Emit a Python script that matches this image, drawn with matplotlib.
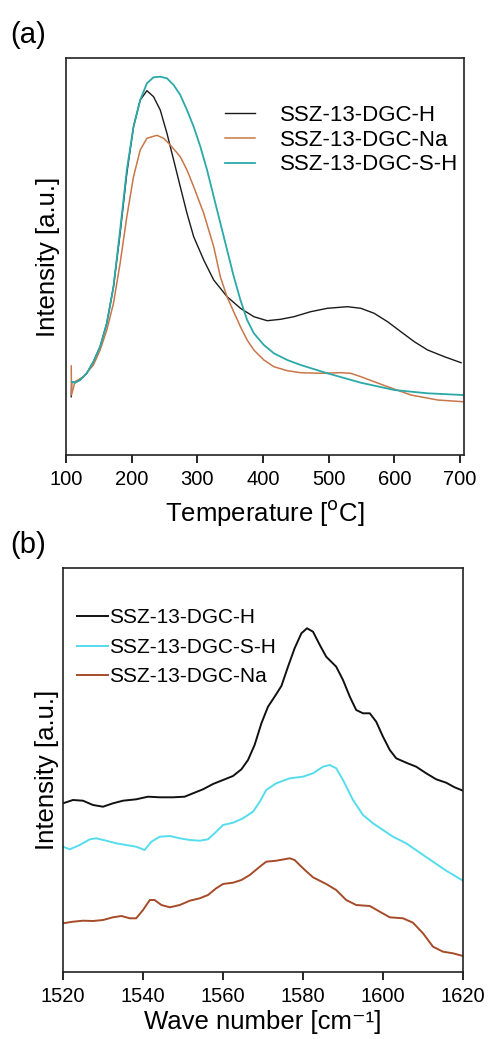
import matplotlib
matplotlib.use("Agg")
import matplotlib.pyplot as plt

plt.rcParams["font.family"] = ["Liberation Sans", "DejaVu Sans"]

# (a) temperature-programmed desorption profiles
temp_h = [108, 108.7, 113.7, 121.4, 131.6, 141.7, 151.9, 162.1, 172.3, 182.4, 192.6,
          202.8, 213, 223.2, 233.3, 243.5, 253.7, 263.9, 274, 284.2, 294.4, 309.7,
          324.9, 345.3, 365.6, 386, 406.4, 426.7, 447.1, 472.5, 498, 528.5, 548.9,
          569.2, 589.6, 609.9, 630.3, 650.6, 676.1, 701.5]
int_h = [58.3, 73.3, 72.3, 75, 81.7, 93.3, 108.3, 131.7, 168.3, 221.7, 281.7,
         328.3, 355, 364.3, 358.3, 345, 321.7, 295, 268.3, 241.7, 218.3, 195,
         175, 158.3, 146.7, 138.3, 134.3, 135.7, 138.3, 143.3, 146.7, 148.3, 146.7,
         141.7, 133.3, 123.3, 113.3, 105, 98.3, 92.3]

temp_na = [108, 108.3, 113.7, 126.5, 141.7, 151.9, 162.1, 172.3, 182.4, 192.6, 202.8,
           213, 223.2, 238.4, 248.6, 258.8, 274, 284.2, 294.4, 309.7, 324.9, 335.1,
           345.3, 355.5, 365.6, 375.8, 386, 401.3, 416.5, 436.9, 457.3, 487.8, 518.3,
           533.6, 548.9, 569.2, 589.6, 625.2, 665.9, 704]
int_na = [89, 60, 73.3, 78.3, 90, 105, 125, 151.7, 191.7, 238.3, 278.3,
          305, 316.7, 319.7, 316.7, 310, 298.3, 285, 268.3, 241.7, 208.3, 178,
          158, 143, 128.3, 115, 105, 95, 88.3, 84.3, 82.3, 81.7, 82.3,
          81.7, 78.3, 73.3, 68.3, 60, 55, 53.3]

temp_sh = [108.7, 113.7, 121.4, 131.6, 141.7, 151.9, 162.1, 172.3, 182.4, 192.6, 202.8,
           213, 223.2, 233.3, 243.5, 253.7, 263.9, 274, 284.2, 294.4, 304.6, 314.8,
           324.9, 335.1, 345.3, 355.5, 365.6, 375.8, 386, 401.3, 416.5, 436.9, 457.3,
           498, 548.9, 599.7, 650.6, 704]
int_sh = [73.3, 72.3, 75, 81.7, 93.3, 108.3, 131.7, 168.3, 225, 285, 328.3,
          355, 371.7, 377.7, 378.3, 376.7, 370, 360, 345, 328.3, 308.3, 285,
          258.3, 231.7, 205, 178.3, 155, 135, 121.7, 110, 101.7, 95, 90,
          81.7, 72.3, 65, 61.7, 60]

# (b) IR spectra
wn_h = [1520, 1522.5, 1525, 1527.5, 1530, 1532.5, 1535, 1538.3, 1541.25, 1544.2,
        1547.5, 1550.4, 1552.5, 1555, 1557.5, 1560, 1562.5, 1564.6, 1566.25, 1567.9,
        1569.6, 1571.25, 1572.9, 1574.6, 1576.25, 1577.9, 1579.6, 1581, 1582.5,
        1584.2, 1585.8, 1588.3, 1590, 1591.7, 1593.3, 1595, 1596.7, 1598.3, 1600,
        1601.7, 1603.3, 1605.8, 1608.3, 1610.8, 1613.3, 1615.8, 1617.9, 1620]
ir_h = [168.7, 172, 171.3, 167, 165.3, 168.7, 171.3, 172.7, 175.3, 174.7,
        174.7, 175.3, 178.7, 182.7, 188, 192, 196, 202.7, 212, 227,
        248.7, 265.3, 275.3, 286, 305.3, 323.7, 338.7, 343.7, 340.3,
        327, 315.3, 305.3, 292, 275.3, 262, 258.7, 258.7, 250.3, 235.3,
        222, 213.7, 209.3, 205.3, 198.7, 192.7, 189.3, 184.7, 181.3]

wn_sh = [1520, 1521.7, 1524.2, 1526.7, 1528.3, 1530.8, 1533.3, 1535.8, 1538.3, 1540.4,
         1542.1, 1544.2, 1546.7, 1549.2, 1551.7, 1554.2, 1556.25, 1558.3, 1560, 1562.5,
         1565, 1567.5, 1569.2, 1570.8, 1573.3, 1576.7, 1580, 1582.5, 1585, 1586.7,
         1588.3, 1590, 1592.5, 1595, 1597.5, 1600, 1602.5, 1605.8, 1609.2, 1612.5,
         1615.8, 1620]
ir_sh = [125.3, 122.7, 127, 132.7, 133.7, 131.3, 128.7, 127, 125.3, 122,
         130.3, 135.3, 136, 133.7, 132, 131.3, 132.7, 140.3, 147, 149.3,
         153.7, 160.3, 170.3, 182, 188.7, 193.7, 195.3, 198.7, 205.3, 207,
         203.7, 192, 172, 157, 148.7, 142, 135.3, 128.7, 119.3, 110.3,
         101.3, 91.3]

wn_na = [1520, 1522.5, 1525, 1527.5, 1530, 1532.5, 1534.6, 1536.7, 1538.3, 1540,
         1541.7, 1542.9, 1544.6, 1546.7, 1549.2, 1551.7, 1554.2, 1556.25, 1558.3, 1560,
         1562.5, 1564.6, 1566.7, 1569.2, 1570.8, 1573.3, 1576.7, 1577.9, 1580, 1582.5,
         1585.8, 1588.3, 1590.8, 1593.3, 1596.7, 1599.2, 1601.7, 1605, 1607.5, 1610,
         1612.5, 1615, 1617.5, 1620]
ir_na = [48.7, 50.3, 51.3, 51, 52, 54.7, 56, 53.7, 53.7, 62,
         72, 72, 67, 64.7, 67, 71.3, 73.7, 77, 83.7, 88,
         89.3, 92, 97, 105.3, 110.3, 111.3, 113.7, 112, 103.7, 94.7,
         88, 82, 72, 67, 66, 60.3, 54.7, 53.7, 49.3, 38.7,
         25.3, 20.3, 18.7, 16]

fig = plt.figure(figsize=(4.88, 10.39), dpi=100)
W, H = 488, 1039
ax1 = fig.add_axes([66 / W, 1 - 455 / H, 398 / W, 397 / H])
ax2 = fig.add_axes([63 / W, 1 - 972 / H, 400 / W, 404 / H])

ax1.plot(temp_h, int_h, color="#1a1a1a", lw=1.0, label="SSZ-13-DGC-H")
ax1.plot(temp_na, int_na, color="#C8764A", lw=1.1, label="SSZ-13-DGC-Na")
ax1.plot(temp_sh, int_sh, color="#2AA9A8", lw=1.3, label="SSZ-13-DGC-S-H")
ax1.set_xlim(100, 706)
ax1.set_ylim(0, 397)
ax1.set_xticks([100, 200, 300, 400, 500, 600, 700])
ax1.set_yticks([])
ax1.set_xlabel("Temperature [$^{\\mathrm{o}}$C]", fontsize=18.5, labelpad=6)
ax1.set_ylabel("Intensity [a.u.]", fontsize=18.5, labelpad=4)
ax1.legend(loc="upper left", bbox_to_anchor=(0.40, 0.881), frameon=False,
           fontsize=16, handlelength=1.35, handletextpad=1.1, labelspacing=0.16,
           borderaxespad=0, borderpad=0)

ax2.plot(wn_h, ir_h, color="#111111", lw=1.4, label="SSZ-13-DGC-H")
ax2.plot(wn_sh, ir_sh, color="#55DDEE", lw=1.4, label="SSZ-13-DGC-S-H")
ax2.plot(wn_na, ir_na, color="#A64B2A", lw=1.4, label="SSZ-13-DGC-Na")
ax2.set_xlim(1520, 1620)
ax2.set_ylim(0, 404)
ax2.set_xticks([1520, 1540, 1560, 1580, 1600, 1620])
ax2.set_yticks([])
ax2.set_xlabel("Wave number [cm\u207b\u00b9]", fontsize=18.5, labelpad=3)
ax2.set_ylabel("Intensity [a.u.]", fontsize=18.5, labelpad=3)
ax2.legend(loc="upper left", bbox_to_anchor=(0.035, 0.900), frameon=False,
           fontsize=15, handlelength=1.5, handletextpad=0.05, labelspacing=0.5,
           borderaxespad=0, borderpad=0)

for ax in (ax1, ax2):
    ax.tick_params(axis="x", direction="out", length=6, width=1.2, labelsize=14.5, pad=5)
    for line in ax.get_lines():
        line.set_solid_joinstyle("round")
    for s in ax.spines.values():
        s.set_linewidth(1.2)
        s.set_color("#222222")

fig.text(10 / W, 1 - 35 / H, "(a)", fontsize=21, va="center", ha="left")
fig.text(10 / W, 1 - 545 / H, "(b)", fontsize=21, va="center", ha="left")

fig.savefig("out.png", dpi=100)
